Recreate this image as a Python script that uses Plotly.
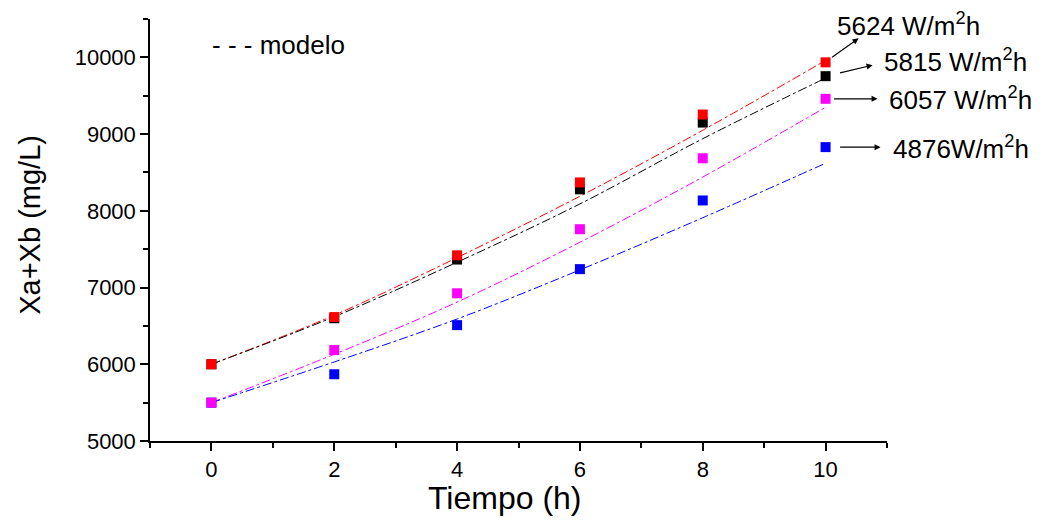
import plotly.graph_objects as go

tiempo = [0, 2, 4, 6, 8, 10]

# experimental data (squares)
exp_5624 = [6000, 6615, 7420, 8370, 9255, 9935]
exp_5815 = [6000, 6600, 7365, 8280, 9150, 9755]
exp_6057 = [5500, 6185, 6925, 7760, 8685, 9460]
exp_4876 = [5500, 5870, 6510, 7240, 8135, 8830]

# model curves (dash-dot)
mod_5624 = [6000, 6640, 7390, 8190, 9050, 9960]
mod_5815 = [6000, 6620, 7330, 8090, 8940, 9730]
mod_6057 = [5500, 6130, 6810, 7590, 8440, 9350]
mod_4876 = [5500, 6030, 6590, 7230, 7910, 8620]

labels = ["5624 W/m<sup>2</sup>h", "5815 W/m<sup>2</sup>h",
          "6057 W/m<sup>2</sup>h", "4876W/m<sup>2</sup>h"]
colors = ["#ff0000", "#000000", "#ff00ff", "#0000ff"]

x_ticks = [0, 2, 4, 6, 8, 10]
y_ticks = [5000, 6000, 7000, 8000, 9000, 10000]

fig = go.Figure()

models = [mod_5624, mod_5815, mod_6057, mod_4876]
exps = [exp_5624, exp_5815, exp_6057, exp_4876]

for m, c in zip(models, colors):
    fig.add_trace(go.Scatter(x=tiempo, y=m, mode="lines",
                             line=dict(color=c, width=1, dash="dashdot", shape="spline"),
                             showlegend=False, hoverinfo="skip"))

# draw order: blue, magenta, black, red (red on top)
for idx in [3, 2, 1, 0]:
    fig.add_trace(go.Scatter(x=tiempo, y=exps[idx], mode="markers",
                             marker=dict(symbol="square", size=10, color=colors[idx],
                                         line=dict(width=0)),
                             showlegend=False))

font = "Liberation Sans, Arial, sans-serif"

# arrow / label placement in pixels relative to the last marker of each series
arrow_specs = [
    # (tail dx, tail dy, head dx, head dy, label dx, label dy)  dy: down positive
    (5, -4, 33, -24, 83, -38),
    (13, -3, 47, -11, 130, -16),
    (7, 0, 52, 0, 135, 0),
    (13, 0, 55, 0, 135, 0),
]
last_vals = [e[-1] for e in exps]
for yv, (tdx, tdy, hdx, hdy, ldx, ldy), lab in zip(last_vals, arrow_specs, labels):
    fig.add_annotation(x=tiempo[-1], y=yv, xref="x", yref="y", xshift=hdx, yshift=-hdy,
                       text="", showarrow=True, arrowhead=2, arrowsize=1.0,
                       arrowwidth=1.2, arrowcolor="black",
                       axref="pixel", ayref="pixel",
                       ax=tdx - hdx, ay=tdy - hdy)
    fig.add_annotation(x=tiempo[-1], y=yv, xref="x", yref="y", xshift=ldx, yshift=-ldy,
                       text=lab, showarrow=False, xanchor="center", yanchor="middle",
                       font=dict(family=font, size=26, color="black"))

fig.add_annotation(x=0.081, y=0.938, xref="paper", yref="paper", text="- - - modelo",
                   showarrow=False, xanchor="left", yanchor="middle",
                   font=dict(family=font, size=26, color="black"))

# axis titles placed as annotations for exact positioning
fig.add_annotation(x=0.482, y=-0.135, xref="paper", yref="paper", text="Tiempo (h)",
                   showarrow=False, xanchor="center", yanchor="middle",
                   font=dict(family=font, size=32, color="black"))
fig.add_annotation(x=-0.163, y=0.512, xref="paper", yref="paper", text="Xa+Xb (mg/L)",
                   showarrow=False, xanchor="center", yanchor="middle", textangle=-90,
                   font=dict(family=font, size=29, color="black"))

fig.update_layout(
    width=1038, height=515,
    margin=dict(l=142, r=159, t=11, b=82, autoexpand=False),
    paper_bgcolor="white", plot_bgcolor="white",
    font=dict(family=font, size=21, color="black"),
)
fig.update_xaxes(range=[-1, 11], tickvals=x_ticks, ticktext=[str(v) for v in x_ticks],
                 ticks="outside", ticklen=8, tickwidth=1.5, tickcolor="black",
                 showline=True, linecolor="black", linewidth=1.5,
                 showgrid=False, zeroline=False, automargin=False,
                 minor=dict(tickvals=[-1, 1, 3, 5, 7, 9, 11], ticks="outside",
                            ticklen=5, tickwidth=1.5, tickcolor="black"),
                 tickfont=dict(size=22))
fig.update_yaxes(range=[5000, 10500], tickvals=y_ticks, ticktext=[str(v) for v in y_ticks],
                 ticks="outside", ticklen=8, tickwidth=1.5, tickcolor="black",
                 showline=True, linecolor="black", linewidth=1.5,
                 showgrid=False, zeroline=False, automargin=False,
                 minor=dict(tickvals=[5500, 6500, 7500, 8500, 9500, 10500], ticks="outside",
                            ticklen=5, tickwidth=1.5, tickcolor="black"),
                 tickfont=dict(size=22))

fig.write_html("out.html")
